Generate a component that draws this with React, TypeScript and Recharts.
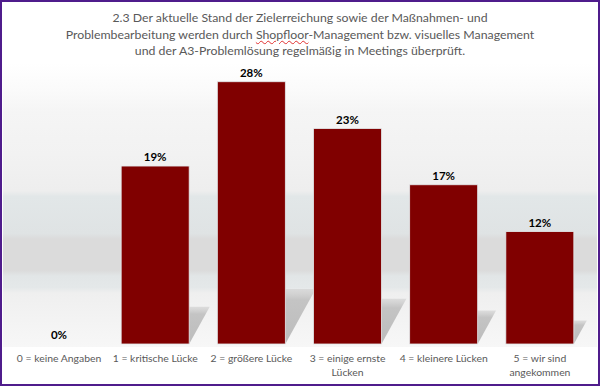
import React from 'react'
import { BarChart, Bar, XAxis, YAxis, LabelList } from 'recharts'

const categories = [
	'0 = keine Angaben',
	'1 = kritische Lücke',
	'2 = größere Lücke',
	'3 = einige ernste\nLücken',
	'4 = kleinere Lücken',
	'5 = wir sind\nangekommen',
]
const shares = [0, 19, 28, 23, 17, 12]

const data = categories.map((name, i) => ({ name, value: shares[i] }))

const FONT = 'Lato, "Open Sans", sans-serif'
const BAR_COLOR = '#800000'

function ShadowBar(props: any) {
	const { x, y, width, height } = props
	if (!height || height <= 0) return null
	const base = y + height
	const h = height * 0.21
	const dx = h * 0.55
	const pts = [
		[x, base],
		[x + width, base],
		[x + width + dx, base - h],
		[x + dx, base - h],
	]
		.map((p) => p.join(','))
		.join(' ')
	return (
		<g>
			<polygon points={pts} fill="url(#shadowGrad)" />
			<rect x={x} y={y} width={width} height={height} fill={BAR_COLOR} stroke="#e4eaec" strokeWidth={0.8} />
		</g>
	)
}

function CategoryTick(props: any) {
	const { x, y, payload } = props
	const lines = String(payload.value).split('\n')
	return (
		<text x={x} y={y} textAnchor="middle" fill="#595959" fontSize={10.4} fontFamily={FONT}>
			{lines.map((line, i) => (
				<tspan key={i} x={x} dy={i === 0 ? 10 : 14}>
					{line}
				</tspan>
			))}
		</text>
	)
}

export default function App() {
	return (
		<div
			style={{
				position: 'absolute',
				left: 0,
				top: 0,
				width: 600,
				height: 386,
				boxSizing: 'border-box',
				border: '2px solid #4f1c8c',
				background: '#ffffff',
				overflow: 'hidden',
			}}
		>
			<div
				style={{
					position: 'absolute',
					left: 1,
					right: 1,
					top: 61,
					height: 284,
					background:
						'linear-gradient(to bottom, #ffffff 0%, #fafafa 10%, #f5f5f5 17%, #f2f2f2 32%, #eeeeee 45%, #e2e7e8 47%, #dfe3e4 60%, #dbdbdb 62%, #dbdbdb 73%, #e2e6e7 75%, #e4e8e9 79%, #efefef 81%, #f2f2f2 88%, #f7f7f7 100%)',
				}}
			/>
			<div
				style={{
					position: 'absolute',
					left: 0,
					top: 8,
					width: 596,
					textAlign: 'center',
					fontFamily: FONT,
					fontSize: 12.3,
					lineHeight: '16.5px',
					color: '#595959',
				}}
			>
				2.3 Der aktuelle Stand der Zielerreichung sowie der Maßnahmen- und
				<br />
				Problembearbeitung werden durch{' '}
				<span style={{ textDecoration: 'underline wavy #e03030', textDecorationThickness: 1 }}>Shopfloor</span>
				-Management bzw. visuelles Management
				<br />
				und der A3-Problemlösung regelmäßig in Meetings überprüft.
			</div>
			<div style={{ position: 'absolute', left: -2, top: -2 }}>
				<BarChart width={600} height={386} data={data} margin={{ top: 63, right: 12, bottom: 6, left: 11 }} barSize={68}>
					<defs>
						<linearGradient id="shadowGrad" x1="0" y1="1" x2="0" y2="0">
							<stop offset="0%" stopColor="#bcbcbc" />
							<stop offset="80%" stopColor="#c4c4c4" />
							<stop offset="100%" stopColor="#cfcfcf" stopOpacity={0.6} />
						</linearGradient>
					</defs>
					<XAxis dataKey="name" axisLine={false} tickLine={false} height={36} interval={0} tick={<CategoryTick />} />
					<YAxis hide domain={[0, 30]} />
					<Bar dataKey="value" fill={BAR_COLOR} shape={<ShadowBar />} isAnimationActive={false}>
						<LabelList
							dataKey="value"
							position="top"
							offset={5}
							formatter={(v: any) => `${v}%`}
							fill="#000000"
							fontSize={11.5}
							fontWeight="bold"
							fontFamily={FONT}
						/>
					</Bar>
				</BarChart>
			</div>
		</div>
	)
}
